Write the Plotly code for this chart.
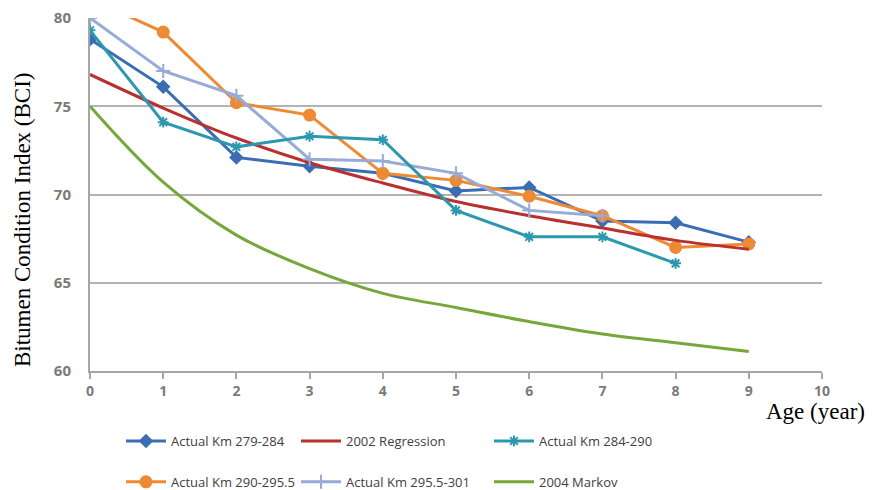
import plotly.graph_objects as go

ages = [0, 1, 2, 3, 4, 5, 6, 7, 8, 9]
km_279_284 = [78.8, 76.1, 72.1, 71.6, 71.2, 70.2, 70.4, 68.5, 68.4, 67.3]
regression_2002 = [76.8, 74.9, 73.2, 71.8, 70.65, 69.6, 68.8, 68.1, 67.4, 66.9]
km_284_290 = [79.3, 74.1, 72.7, 73.3, 73.1, 69.1, 67.6, 67.6, 66.1]
km_290_295_5 = [81.1, 79.2, 75.2, 74.5, 71.2, 70.8, 69.9, 68.8, 67.0, 67.2]
km_295_5_301 = [80.0, 77.0, 75.6, 72.0, 71.9, 71.2, 69.1, 68.8]
markov_2004 = [75.0, 70.7, 67.7, 65.8, 64.4, 63.6, 62.8, 62.1, 61.6, 61.1]

x_ticks = [0, 1, 2, 3, 4, 5, 6, 7, 8, 9, 10]
y_ticks = [60, 65, 70, 75, 80]

fig = go.Figure()

def add(name, y, color, symbol, size, legend, group, shape="linear"):
    mode = "lines+markers" if symbol else "lines"
    fig.add_trace(go.Scatter(
        x=ages[:len(y)], y=y, name=name, mode=mode,
        line=dict(color=color, width=3, shape=shape),
        marker=dict(symbol=symbol or "circle", size=size, color=color,
                    line=dict(color=color, width=2)),
        legend=legend, legendgroup=group,
    ))

add("Actual Km 279-284", km_279_284, "#3b6db4", "diamond", 9, "legend", "a")
add("Actual Km 290-295.5", km_290_295_5, "#ee8a33", "circle", 11, "legend", "b")
add("2002 Regression", regression_2002, "#b8312f", None, 0, "legend2", "c", "spline")
add("Actual Km 295.5-301", km_295_5_301, "#97abd9", "cross-thin-open", 10, "legend2", "d")
add("Actual Km 284-290", km_284_290, "#2c98b0", "asterisk-open", 9, "legend3", "e")
add("2004 Markov", markov_2004, "#77a63a", None, 0, "legend3", "f", "spline")

L, R, T, B = 90, 52, 18, 119
W, H = 874, 490
pw, ph = W - L - R, H - T - B

def px(xp):
    return (xp - L) / pw

def py(yp):
    return (H - B - yp) / ph

leg_common = dict(orientation="v", font=dict(family="Open Sans", size=13, color="#404040"),
                  tracegroupgap=21, bgcolor="rgba(0,0,0,0)", xanchor="left", yanchor="top",
                  itemwidth=40)

fig.update_layout(
    width=W, height=H,
    margin=dict(l=L, r=R, t=T, b=B, autoexpand=False),
    plot_bgcolor="white", paper_bgcolor="white",
    showlegend=True,
    legend=dict(x=px(121), y=py(426), **leg_common),
    legend2=dict(x=px(296), y=py(426), **leg_common),
    legend3=dict(x=px(489), y=py(426), **leg_common),
    xaxis=dict(range=[0, 10], tickvals=x_ticks, ticktext=[str(v) for v in x_ticks],
               showgrid=False, zeroline=False, showline=True, linecolor="#a6a6a6", linewidth=2,
               ticks="outside", ticklen=6, tickcolor="#a6a6a6", tickwidth=2, automargin=False,
               tickfont=dict(family="Open Sans", size=14, color="#7a7a7a", weight="bold")),
    yaxis=dict(range=[60, 80], tickvals=y_ticks, ticktext=[str(v) for v in y_ticks],
               showgrid=True, gridcolor="#b3b3b3", gridwidth=2, zeroline=False,
               showline=True, linecolor="#a6a6a6", linewidth=2, ticks="", automargin=False,
               ticklabelstandoff=14,
               tickfont=dict(family="Open Sans", size=15, color="#7a7a7a", weight="bold")),
    annotations=[
        dict(text="Bitumen Condition Index (BCI)", xref="paper", yref="paper",
             x=px(22), y=py(220), textangle=-90, showarrow=False,
             xanchor="center", yanchor="middle",
             font=dict(family="Liberation Serif", size=23, color="black")),
        dict(text="Age (year)", xref="paper", yref="paper",
             x=px(867), y=py(411), showarrow=False, xanchor="right", yanchor="middle",
             font=dict(family="Liberation Serif", size=23, color="black")),
    ],
)

fig.write_html("out.html", config={"displayModeBar": False},
               post_script="document.body.style.margin='0';document.body.style.overflow='hidden';")
